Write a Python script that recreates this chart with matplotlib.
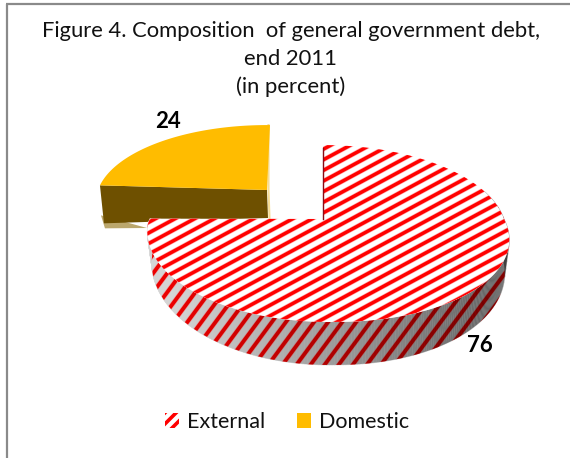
import numpy as np
import matplotlib
matplotlib.use("Agg")
import matplotlib.pyplot as plt
from matplotlib.patches import Polygon, Patch
from matplotlib.collections import LineCollection, PolyCollection

title_lines = ["Figure 4. Composition  of general government debt,", "end 2011", "(in percent)"]
categories = ["External", "Domestic"]
values = [76, 24]
value_labels = ["76", "24"]
RED = "#FF0000"
GOLD = "#FFBC00"
BROWN = "#6E5000"

plt.rcParams["font.family"] = ["Lato", "DejaVu Sans"]
plt.rcParams["hatch.linewidth"] = 2.6
fig = plt.figure(figsize=(5.7, 4.58), dpi=100)
ax = fig.add_axes([0, 0, 1, 1])
ax.set_xlim(0, 570)
ax.set_ylim(458, 0)
ax.axis("off")

ang = np.cumsum([0] + values) / sum(values) * 2 * np.pi


def proj(t, cx, cy, bl, br, a, p, shear, tilt=0.0, drop=0.0, dfront=0.0, shrink=1.0):
    u, v = np.sin(t), np.cos(t)
    b = np.where(u > 0, br, bl) * shrink
    x = cx + u * b / (1 + p * v) + shear * np.maximum(-v, 0)
    y = cy - a * v / (1 + p * v) + drop + dfront * np.maximum(-v, 0) + tilt * np.maximum(-u, 0)
    return x, y


def stripes(clip, slope, period, lw, color, zorder):
    x0 = np.array([-100.0, 700.0])
    segs = []
    for c in np.arange(-400, 1000, period):
        segs.append(np.column_stack([x0, c - slope * (x0 - 300)]))
    lc = LineCollection(segs, colors=color, linewidths=lw, zorder=zorder, capstyle="butt")
    ax.add_collection(lc)
    lc.set_clip_path(clip)


# Domestic slice (exploded, drawn first)
d = dict(cx=267, cy=190, bl=169, br=169, a=75, p=0.155, shear=0)
t_d = np.linspace(ang[1], ang[2], 120)
xd, yd = proj(t_d, **d)
tip = (d["cx"], d["cy"])
ax.add_patch(Polygon(np.column_stack([np.r_[xd[0] + 1, xd[0] + 5, tip[0] - 120], np.r_[yd[0] + 30, yd[0] + 43, tip[1] + 38]]),
                     closed=True, fc="#BBA76C", ec="none", zorder=1))
ax.add_patch(Polygon(np.column_stack([np.r_[xd[0], tip[0], tip[0] + 1, xd[0] + 4], np.r_[yd[0], tip[1], tip[1] + 28, yd[0] + 38]]),
                     closed=True, fc=BROWN, ec="none", zorder=2))
ax.plot([xd[-1] + 1.5, tip[0] + 1.5, tip[0] + 2.5], [yd[-1], tip[1], tip[1] + 28], color="#F6DD95", lw=1.5, zorder=2)
ax.add_patch(Polygon(np.column_stack([np.r_[tip[0], xd[:-1], xd[-1] + 3], np.r_[tip[1], yd]]), closed=True, fc=GOLD, ec="none", zorder=3))

# External slice
e = dict(cx=323, cy=219, bl=175, br=181, a=86, p=0.164, shear=14, tilt=5)
t_e = np.linspace(ang[0], ang[1], 360)
xt, yt = proj(t_e, **e)
t_s = t_e[t_e > np.deg2rad(70)]
xo, yo = proj(t_s, drop=30, dfront=13, shrink=0.975, **e)
xi, yi = proj(t_s, **e)
quads, shade, base = [], [], []
for i in range(len(t_s) - 1):
    quads.append([(xi[i], yi[i]), (xi[i + 1], yi[i + 1]), (xo[i + 1], yo[i + 1]), (xo[i], yo[i])])
    f = np.clip((xi[i] - 170) / 330, 0, 1)
    shade.append((0, 0, 0, 0.02 + 0.52 * f))
    base.append((0.85, 0.85, 0.85))
ax.add_collection(PolyCollection(quads, facecolors=base, edgecolors=base, linewidths=0.6, zorder=4))
side_clip = Polygon(np.column_stack([np.r_[xi, xo[::-1]], np.r_[yi, yo[::-1]]]), closed=True, fc="none", ec="none", zorder=4)
ax.add_patch(side_clip)
stripes(side_clip, 1.35, 19.0, 3.6, "#F4A0A0", 5)
stripes(side_clip, 1.35, 19.0, 2.7, "#F00000", 5.1)
ax.add_collection(PolyCollection(quads, facecolors=shade, edgecolors="none", zorder=5.5))

top = Polygon(np.column_stack([np.r_[e["cx"], xt], np.r_[e["cy"], yt]]), closed=True, fc="white", ec="none", zorder=6)
ax.add_patch(top)
stripes(top, 0.54, 10.6, 3.4, "#FFB0B0", 7)
stripes(top, 0.54, 10.6, 2.5, RED, 7.1)
ax.plot([xt[0], e["cx"]], [yt[0] + 3, e["cy"]], color="#8A0A14", lw=1.0, zorder=8)

# Value labels
ax.text(480, 346, value_labels[0], fontsize=16, fontweight="bold", ha="center", va="center", color="black", zorder=9)
ax.text(168, 121, value_labels[1], fontsize=16, fontweight="bold", ha="center", va="center", color="black", zorder=9)

# Title
for line, y in zip(title_lines, [31, 59, 87]):
    ax.text(291, y, line, fontsize=15.8, ha="center", va="center", color="#111111", zorder=9)

# Legend
handles = [Patch(facecolor="white", edgecolor=RED, hatch="///", lw=0),
           Patch(facecolor=GOLD, edgecolor="none")]
ax.legend(handles, categories, loc="center", bbox_to_anchor=(287 / 570, 1 - 422 / 458), ncol=2, frameon=False,
          fontsize=15.5, handlelength=0.64, handleheight=0.64, handletextpad=0.37, columnspacing=1.5,
          labelcolor="#111111", borderpad=0, borderaxespad=0)

# Frame
ax.plot([7, 7], [458, 3.5], color="#8A8A8A", lw=1.6, zorder=10, solid_capstyle="butt")
ax.plot([6, 570], [3.5, 3.5], color="#8A8A8A", lw=1.6, zorder=10, solid_capstyle="butt")

fig.savefig("out.png", dpi=100)
